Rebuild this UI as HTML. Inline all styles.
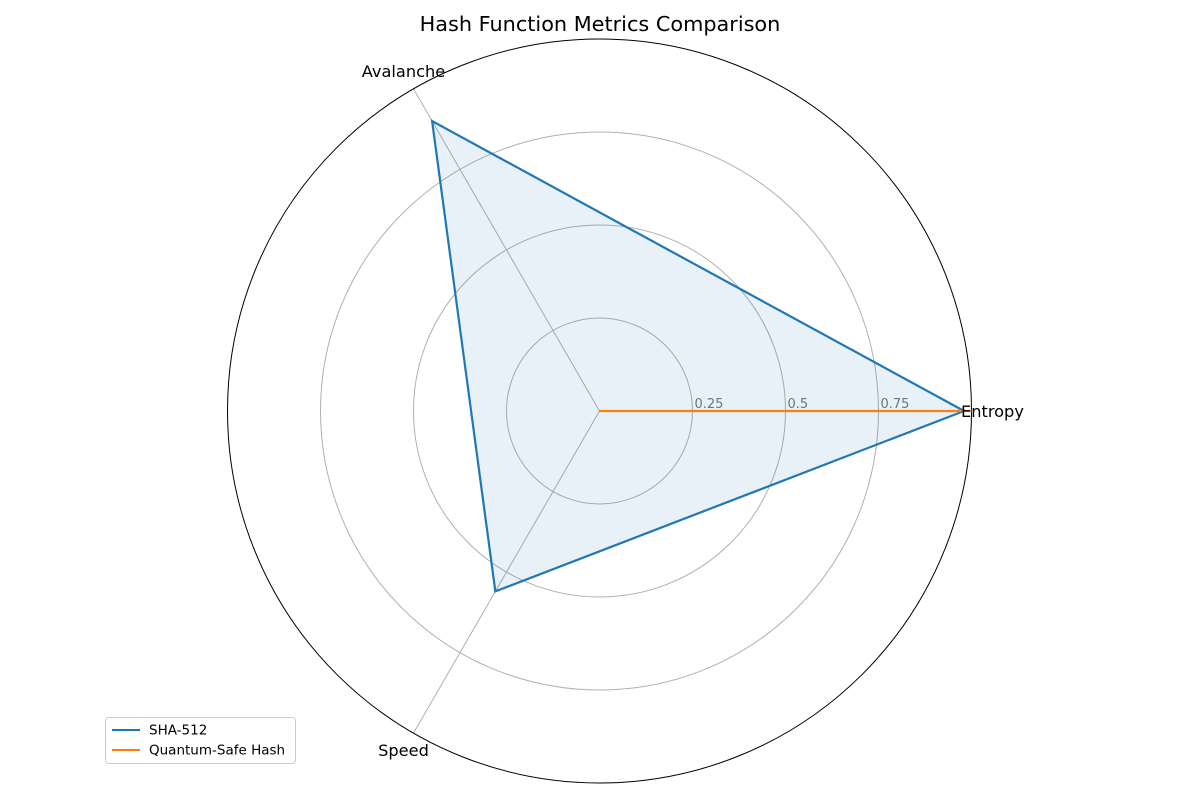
<!DOCTYPE html>
<html><head><meta charset="utf-8"><style>
html,body{margin:0;padding:0;background:#fff;}
svg{display:block;font-family:"DejaVu Sans","Liberation Sans",sans-serif;}
</style></head><body>
<svg id="chart" width="1200" height="800" viewBox="0 0 1200 800">
<text x="600" y="31" text-anchor="middle" font-size="20.8" fill="#000">Hash Function Metrics Comparison</text>
<g id="grid"></g>
<g id="series"></g>
<g id="labels"></g>
<g>
<rect x="105.5" y="717.5" width="190" height="46" rx="3" fill="#fff" stroke="#ccc"/>
<line x1="112" y1="730" x2="140" y2="730" stroke="#1f77b4" stroke-width="2"/>
<text x="149" y="734.5" font-size="13.5">SHA-512</text>
<line x1="112" y1="750" x2="140" y2="750" stroke="#ff7f0e" stroke-width="2"/>
<text x="149" y="754.5" font-size="13.5">Quantum-Safe Hash</text>
</g>
</svg>
<script>
const categories = ["Entropy","Avalanche","Speed"];
const sha512 = [0.98, 0.9, 0.56];
const quantumSafe = [1.0, 0, 0];
const ticks = [0.25, 0.5, 0.75];
const NS="http://www.w3.org/2000/svg";
const cx=599.5, cy=411, R=372;
function ang(i){return i*2*Math.PI/categories.length;}
function pt(i,v){const a=ang(i);return [cx+Math.cos(a)*v*R, cy-Math.sin(a)*v*R];}
function mk(tag,attrs,parent){const e=document.createElementNS(NS,tag);for(const k in attrs)e.setAttribute(k,attrs[k]);parent.appendChild(e);return e;}
const grid=document.getElementById('grid');
ticks.forEach((t,k)=>{
  const c=mk('circle',{cx:cx,cy:cy,r:t*R,fill:'none',stroke:'#b0b0b0','stroke-width':1},grid);
  
  
  const tx=mk('text',{x:cx+t*R+2,y:cy-3,'font-size':13,fill:'#777'},grid);
  tx.textContent=String(t);
  
  
});
categories.forEach((c,i)=>{
  const [x,y]=pt(i,1);
  const l=mk('line',{x1:cx,y1:cy,x2:x,y2:y,stroke:'#b0b0b0','stroke-width':1},grid);
  
  
});
const outer=mk('circle',{cx:cx,cy:cy,r:R,fill:'none',stroke:'#000','stroke-width':1},grid);


const ser=document.getElementById('series');
function draw(vals,color,name,fill){
  const pts=vals.map((v,i)=>pt(i,v).join(',')).join(' ');
  if(fill){const p=mk('polygon',{points:pts,fill:color,'fill-opacity':0.1,stroke:'none'},ser);
    
    }
  const l=mk('polygon',{points:pts,fill:'none',stroke:color,'stroke-width':2.2,'stroke-linejoin':'miter'},ser);
  
  
}
draw(sha512,'#1f77b4','sha512',true);
draw(quantumSafe,'#ff7f0e','quantum-safe',true);
const lab=document.getElementById('labels');
const labOff=[[-10.5,6,'start'],[-10,-12,'middle'],[-10,23,'middle']];
categories.forEach((c,i)=>{
  const [x,y]=pt(i,1);
  const o=labOff[i];
  const t=mk('text',{x:x+o[0],y:y+o[1],'font-size':16.2,'text-anchor':o[2]},lab);
  t.textContent=c;
  
  
});
</script>
</body></html>
